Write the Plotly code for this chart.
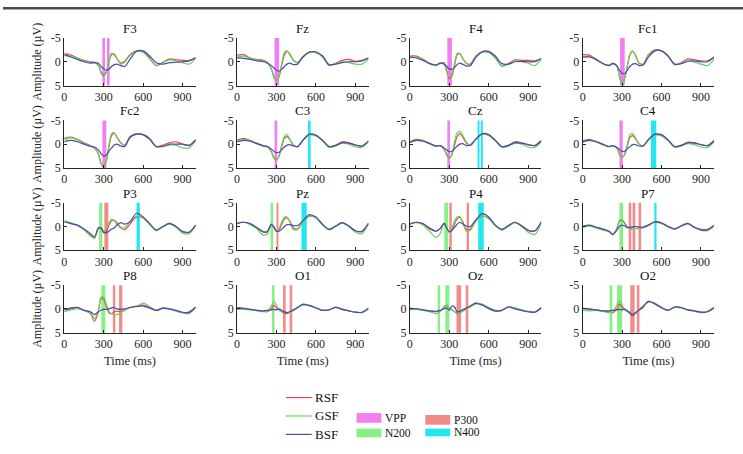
import plotly.graph_objects as go

W, H = 743, 454

# time grid (ms)
T = [0, 50, 100, 150, 200, 230, 260, 280, 300, 320, 340, 360, 380, 400, 430, 460,
     500, 550, 600, 650, 700, 750, 800, 850, 900, 950, 1000]

ELECTRODES = ["F3", "Fz", "F4", "Fc1", "Fc2", "C3", "Cz", "C4",
              "P3", "Pz", "P4", "P7", "P8", "O1", "Oz", "O2"]
SERIES = ["RSF", "GSF", "BSF"]

F3_RSF = [-1.7,-1.4,-0.8,-0.3,0.0,0.1,0.7,2.1,2.9,2.1,-0.1,-1.5,-1.5,-0.7,0.3,-0.1,-1.5,-2.3,-2.1,-0.7,0.8,0.1,-0.6,-0.4,-0.3,-0.3,-0.9]
F3_GSF = [-1.3,-1.2,-0.7,-0.2,0.1,0.2,0.8,2.4,3.1,2.2,-0.2,-1.8,-1.7,-0.8,0.5,0.1,-1.3,-2.1,-2.0,-0.6,0.8,0.2,-0.4,-0.2,0.2,0.5,-0.7]
F3_BSF = [-1.5,-1.0,-0.5,0.0,0.3,0.2,0.3,1.0,1.5,1.8,1.6,1.0,0.6,0.5,0.8,1.0,-0.5,-2.2,-2.3,-1.2,0.2,0.5,0.2,0.1,0.0,-0.2,-0.8]

Fz_RSF = [-1.4,-1.5,-0.8,-0.5,-0.3,0.1,1.4,3.1,4.0,3.1,0.7,-1.4,-2.2,-1.7,-0.3,0.1,-1.0,-2.1,-1.9,-1.2,0.8,0.3,-0.3,-0.5,-0.1,-0.3,-0.8]
Fz_GSF = [-1.0,-1.2,-0.7,-0.4,-0.2,0.2,1.5,3.3,4.1,3.0,0.3,-2.0,-2.3,-1.5,-0.2,0.2,-0.9,-2.0,-1.9,-1.0,0.8,0.4,0.0,0.2,0.5,0.5,-0.6]
Fz_BSF = [-0.8,-0.7,-0.5,-0.2,0.0,0.3,0.8,1.3,1.8,2.0,1.6,1.0,0.5,0.3,0.6,0.5,-1.0,-2.0,-2.1,-1.2,0.6,0.5,0.2,0.0,0.0,-0.2,-0.8]

F4_RSF = [-1.2,-1.2,-0.5,0.3,0.7,0.3,0.2,2.0,3.5,3.0,0.8,-1.5,-1.7,-0.8,0.3,0.5,-1.2,-2.1,-2.0,-0.9,0.9,0.4,-0.4,-0.3,-0.3,-0.2,-0.7]
F4_GSF = [-0.8,-1.0,-0.4,0.4,0.8,0.4,0.3,2.0,3.3,2.6,0.3,-1.8,-1.7,-0.7,0.4,0.6,-1.1,-2.0,-1.9,-0.8,0.9,0.5,-0.2,0.0,0.3,0.8,-0.5]
F4_BSF = [-1.0,-0.8,-0.3,0.4,0.7,0.3,0.5,1.0,1.5,1.6,1.2,0.6,0.3,0.5,0.9,0.8,-0.8,-2.1,-2.2,-1.2,0.4,0.5,0.0,-0.1,0.0,0.0,-0.7]

Fc1_RSF = [-1.5,-1.4,-0.6,0.3,0.7,0.3,0.8,3.0,4.8,3.5,1.0,-1.5,-2.2,-1.5,0.3,0.5,-1.5,-2.5,-2.3,-1.3,0.6,0.2,-0.6,-0.4,-0.2,-0.2,-1.0]
Fc1_GSF = [-1.0,-1.1,-0.5,0.4,0.8,0.4,0.9,3.2,4.8,3.4,0.8,-1.6,-2.3,-1.4,0.4,0.6,-1.4,-2.4,-2.2,-1.1,0.6,0.4,-0.2,0.1,0.5,0.8,-0.5]
Fc1_BSF = [-1.0,-1.0,-0.5,0.3,0.8,0.4,0.9,1.8,2.4,2.5,1.8,1.0,0.5,0.4,0.8,0.7,-1.0,-2.3,-2.3,-1.2,0.5,0.4,-0.1,-0.2,0.0,0.0,-1.0]

Fc2_RSF = [-1.2,-1.5,-1.0,-0.3,0.3,0.8,2.0,4.0,4.8,3.5,0.5,-1.8,-2.3,-1.5,-0.3,0.2,-1.6,-2.2,-2.0,-1.2,0.5,0.2,-0.3,-0.5,0.0,0.3,-1.0]
Fc2_GSF = [-0.9,-1.3,-0.9,-0.2,0.4,0.9,2.2,4.2,5.0,3.5,0.2,-2.2,-2.4,-1.4,-0.2,0.3,-1.5,-2.1,-1.9,-1.0,0.6,0.5,0.2,0.2,0.8,0.8,-0.8]
Fc2_BSF = [-0.5,-0.8,-0.5,0.0,0.5,0.6,1.2,2.0,2.5,2.3,1.5,0.8,0.2,0.0,0.4,0.5,-1.4,-2.1,-2.0,-1.0,0.5,0.5,0.0,0.0,0.0,0.2,-0.8]

C3_RSF = [-0.8,-1.2,-0.8,-0.2,0.3,0.5,1.5,2.8,3.3,2.5,0.5,-1.2,-1.6,-1.0,0.2,0.6,-0.8,-2.0,-1.8,-0.8,0.6,0.2,-0.5,-0.3,0.2,0.4,-0.7]
C3_GSF = [-0.6,-1.0,-0.7,-0.1,0.4,0.6,1.6,3.0,3.4,2.4,0.2,-1.6,-2.0,-1.1,0.2,0.6,-0.7,-1.9,-1.7,-0.7,0.7,0.4,-0.2,0.0,0.6,0.7,-0.5]
C3_BSF = [-0.5,-0.8,-0.6,-0.1,0.4,0.5,1.0,1.5,1.8,1.7,1.2,0.6,0.2,0.1,0.4,0.5,-0.8,-2.1,-1.9,-0.8,0.5,0.3,-0.3,-0.2,0.2,0.4,-0.7]

Cz_RSF = [-0.5,-1.0,-0.8,-0.2,0.4,0.3,1.0,2.2,3.0,2.2,0.2,-1.6,-2.2,-1.6,-0.2,0.3,-1.0,-2.1,-1.9,-0.8,0.6,0.2,-0.5,-0.3,0.1,0.3,-0.7]
Cz_GSF = [-0.3,-0.8,-0.7,-0.1,0.5,0.4,1.1,2.4,3.1,2.0,-0.5,-2.4,-2.7,-2.0,-0.4,0.3,-0.9,-2.0,-1.8,-0.7,0.7,0.4,-0.2,0.0,0.6,0.7,-0.5]
Cz_BSF = [-0.4,-0.8,-0.6,-0.1,0.4,0.3,0.8,1.2,1.6,1.5,1.0,0.4,0.0,-0.1,0.3,0.2,-1.0,-2.2,-2.0,-0.8,0.5,0.3,-0.3,-0.2,0.1,0.3,-0.7]

C4_RSF = [-0.6,-1.0,-0.6,0.0,0.5,0.3,0.8,2.0,2.8,2.2,0.4,-1.4,-1.8,-1.2,0.0,0.4,-1.0,-2.0,-1.8,-0.8,0.6,0.2,-0.4,-0.3,0.1,0.3,-0.7]
C4_GSF = [-0.4,-0.8,-0.5,0.1,0.6,0.4,0.9,2.2,2.9,2.0,0.0,-2.0,-2.2,-1.4,0.0,0.4,-0.9,-1.9,-1.7,-0.7,0.7,0.4,-0.1,0.1,0.6,0.7,-0.5]
C4_BSF = [-0.5,-0.8,-0.5,0.0,0.5,0.3,0.7,1.1,1.5,1.5,1.0,0.5,0.1,0.1,0.4,0.4,-0.9,-2.1,-2.0,-0.9,0.5,0.3,-0.3,-0.2,0.1,0.3,-0.7]

P3_RSF = [-1.0,-0.7,-0.2,0.6,1.8,2.3,0.5,0.3,1.2,1.0,-0.3,-1.2,-1.3,-0.8,0.2,0.7,-0.5,-2.0,-1.8,-0.5,0.8,0.0,-0.7,0.0,1.2,1.2,-0.3]
P3_GSF = [-1.2,-0.8,-0.2,0.7,2.0,2.5,0.4,0.2,1.0,0.5,-0.8,-1.5,-1.2,-0.5,0.3,0.2,-1.0,-2.2,-1.8,-0.4,0.9,0.1,-0.6,0.2,1.4,1.5,-0.2]
P3_BSF = [-1.0,-0.6,-0.3,0.5,1.5,2.2,0.2,0.3,1.3,1.3,1.0,0.6,0.3,-0.3,-0.8,-0.5,-1.0,-2.8,-2.0,-0.6,0.7,0.0,-0.6,0.0,1.0,1.2,-0.3]

Pz_RSF = [-0.6,-0.9,-0.5,0.3,1.2,1.2,-0.3,0.0,1.0,0.8,-0.5,-1.6,-1.8,-1.2,0.3,0.5,-1.0,-2.2,-1.9,-0.4,0.6,-0.1,-0.8,-0.1,0.9,1.1,-0.6]
Pz_GSF = [-0.7,-0.9,-0.4,0.5,1.8,1.6,-0.4,0.1,1.1,0.4,-1.0,-2.0,-2.0,-1.0,0.7,0.6,-0.9,-2.2,-1.8,-0.3,0.7,0.0,-0.7,0.0,1.2,1.5,-0.5]
Pz_BSF = [-0.6,-0.9,-0.6,0.2,1.1,1.0,-0.5,0.2,1.0,1.0,0.6,0.0,-0.4,-0.4,-0.2,-0.2,-1.2,-2.5,-2.0,-0.5,0.6,-0.1,-0.8,-0.1,0.9,1.0,-0.7]

P4_RSF = [-0.5,-0.9,-0.5,0.5,1.0,0.5,-0.5,0.3,1.2,0.8,-0.5,-1.6,-1.9,-1.2,0.6,0.5,-1.3,-2.2,-1.8,-0.2,0.6,-0.2,-0.9,-0.2,0.8,1.0,-0.9]
P4_GSF = [-0.6,-0.8,-0.3,1.0,2.3,1.5,-0.6,0.5,1.3,0.3,-1.2,-2.0,-2.1,-1.0,1.0,0.8,-1.0,-2.3,-1.6,-0.2,0.8,0.0,-0.8,0.0,1.2,1.7,-0.8]
P4_BSF = [-0.5,-0.9,-0.6,0.3,1.0,0.4,-0.7,0.3,1.1,0.8,0.2,-0.5,-0.9,-0.6,-0.1,0.0,-1.3,-2.7,-2.0,-0.3,0.6,-0.2,-0.9,-0.1,0.8,0.9,-1.0]

P7_RSF = [0.0,-0.2,0.2,0.6,1.0,1.7,0.5,-1.2,-1.3,-0.6,0.2,0.4,0.2,0.0,0.2,0.3,-0.2,-0.9,-0.6,0.0,0.5,-0.2,-0.7,0.1,0.6,0.6,-0.2]
P7_GSF = [0.2,-0.1,0.3,0.7,1.1,1.8,0.3,-1.3,-1.4,-0.8,0.0,0.5,0.6,0.5,0.4,0.2,-0.3,-1.1,-0.7,0.1,0.6,-0.1,-0.6,0.2,0.8,0.9,-0.1]
P7_BSF = [0.0,-0.3,0.1,0.5,1.0,1.6,0.8,0.0,-0.3,-0.1,0.2,0.2,0.1,0.0,0.1,0.1,-0.3,-1.0,-0.8,0.0,0.5,-0.1,-0.6,0.2,0.7,0.7,-0.3]

P8_RSF = [0.2,0.0,-0.3,0.3,1.0,2.6,0.5,-2.2,-2.0,-0.5,0.8,1.0,0.6,0.5,0.6,0.2,-0.3,-0.6,-0.8,-0.2,0.3,-0.2,0.0,0.4,0.8,0.6,-0.4]
P8_GSF = [0.6,0.2,0.0,0.3,0.8,2.0,0.3,-2.5,-2.5,-1.0,0.5,1.0,1.2,1.2,0.8,0.3,-0.3,-0.5,-1.2,-0.5,0.3,-0.2,0.0,0.5,0.8,1.0,-0.3]
P8_BSF = [0.2,-0.2,-0.3,0.3,0.6,1.2,0.6,0.3,0.1,0.1,0.0,-0.2,-0.3,0.0,0.1,0.0,-0.3,-0.5,-0.6,-0.2,0.3,-0.1,0.0,0.3,0.7,0.8,-0.4]

O1_RSF = [-0.2,-0.1,0.1,0.3,0.5,0.6,0.0,-0.8,-0.2,0.3,0.6,0.9,1.0,0.7,0.2,-0.3,-0.9,-0.7,-0.2,0.3,0.2,-0.3,0.1,0.4,0.7,0.7,-0.1]
O1_GSF = [0.1,0.1,0.2,0.4,0.6,0.5,-0.6,-1.6,-0.8,0.2,0.5,0.6,0.8,0.8,0.4,-0.2,-0.8,-0.8,-0.3,0.3,0.2,-0.3,0.0,0.4,0.7,0.8,0.0]
O1_BSF = [-0.2,-0.1,0.1,0.3,0.4,0.3,0.2,0.1,0.2,0.0,0.3,0.6,0.8,0.6,0.2,-0.3,-1.0,-0.7,-0.2,0.3,0.2,-0.3,0.1,0.4,0.7,0.7,-0.2]

Oz_RSF = [-0.1,0.0,0.2,0.5,0.6,0.5,-0.3,-0.8,-0.2,0.2,0.6,1.0,0.7,0.3,-0.1,-0.5,-1.2,-0.9,-0.1,0.5,0.3,-0.4,-0.1,0.3,0.6,0.7,-0.2]
Oz_GSF = [0.2,0.1,0.3,0.6,1.0,0.6,-0.5,-0.7,-0.2,0.2,0.6,0.8,0.8,0.6,0.1,-0.4,-1.0,-1.0,-0.3,0.3,0.3,-0.5,-0.2,0.2,0.5,0.6,-0.2]
Oz_BSF = [-0.1,0.0,0.2,0.4,0.5,0.3,0.0,-0.2,0.3,-0.6,-0.4,0.6,0.5,0.2,-0.2,-0.6,-1.2,-0.8,-0.1,0.4,0.3,-0.4,0.0,0.3,0.6,0.7,-0.3]

O2_RSF = [-0.1,0.1,0.2,0.4,0.6,0.8,0.0,-1.0,-0.3,0.2,0.5,1.0,1.5,1.0,0.3,-0.3,-1.6,-1.0,-0.2,0.3,-0.4,-0.3,0.2,0.4,0.7,0.5,-0.3]
O2_GSF = [0.3,0.4,0.3,0.5,0.8,0.6,-0.8,-1.8,-0.9,0.2,0.6,0.6,0.9,1.0,0.2,-0.6,-1.4,-1.2,-0.3,0.3,-0.3,-0.2,0.3,0.5,0.8,0.6,-0.2]
O2_BSF = [-0.1,0.0,0.2,0.4,0.4,0.3,0.2,0.1,0.2,0.0,0.4,0.9,1.2,0.8,0.2,-0.5,-1.6,-1.1,-0.3,0.3,-0.4,-0.3,0.2,0.4,0.7,0.6,-0.3]

# component windows (ms) per electrode
F3_BANDS = [("VPP", 290, 310), ("VPP", 325, 345)]
Fz_BANDS = [("VPP", 285, 320)]
F4_BANDS = [("VPP", 285, 320)]
Fc1_BANDS = [("VPP", 285, 320)]
Fc2_BANDS = [("VPP", 290, 320)]
C3_BANDS = [("VPP", 285, 305), ("N400", 540, 560)]
Cz_BANDS = [("VPP", 285, 305), ("N400", 515, 530), ("N400", 540, 555)]
C4_BANDS = [("VPP", 280, 305), ("N400", 520, 560)]
P3_BANDS = [("N200", 265, 290), ("P300", 305, 335), ("N400", 550, 575)]
Pz_BANDS = [("N200", 255, 275), ("P300", 300, 315), ("N400", 490, 530)]
P4_BANDS = [("N200", 262, 292), ("P300", 300, 319), ("P300", 432, 450), ("N400", 520, 562)]
P7_BANDS = [("N200", 280, 307), ("P300", 350, 370), ("P300", 380, 400), ("P300", 425, 445), ("N400", 545, 562)]
P8_BANDS = [("N200", 282, 312), ("P300", 370, 388), ("P300", 417, 442)]
O1_BANDS = [("N200", 265, 285), ("P300", 350, 370), ("P300", 400, 420)]
Oz_BANDS = [("N200", 212, 230), ("N200", 270, 300), ("P300", 355, 390), ("P300", 425, 445)]
O2_BANDS = [("N200", 205, 225), ("N200", 262, 300), ("P300", 362, 395), ("P300", 412, 432)]

X_TICKS = [0, 300, 600, 900]
Y_TICKS = [-5, 0, 5]
Y_TICKTEXT = ["-5", "0", "5"]

LINE_COLORS = {"RSF": "#ea4646", "GSF": "#5cd85c", "BSF": "#4a4ab2"}
BAND_COLORS = {"VPP": "#f27ff2", "N200": "#86f086", "P300": "#f28a8a", "N400": "#22e6f0"}

g = globals()
DATA = {e: {s: g[f"{e}_{s}"] for s in SERIES} for e in ELECTRODES}
BANDS = {e: g[f"{e}_BANDS"] for e in ELECTRODES}

# geometry (pixels)
COL_LEFT = [61.5, 235, 408.5, 582]
AX_W = 132
ROW_TOP = [32, 117, 202, 287]
AX_H = 49
FONT = "Liberation Serif, Times New Roman, serif"
AXC = "#262626"

fig = go.Figure()
shapes = []
annotations = []
layout = {}

for i, e in enumerate(ELECTRODES):
    r, c = divmod(i, 4)
    n = i + 1
    xa = "x" if n == 1 else f"x{n}"
    ya = "y" if n == 1 else f"y{n}"
    l = COL_LEFT[c]
    t = ROW_TOP[r]
    layout[f"xaxis{n}"] = dict(
        domain=[l / W, (l + AX_W) / W], anchor=ya, range=[0, 1000],
        tickvals=X_TICKS, ticks="inside", ticklen=3, tickcolor=AXC,
        showline=True, linecolor=AXC, linewidth=1, showgrid=False, zeroline=False,
        tickfont=dict(family=FONT, size=12, color=AXC),
        title=dict(text="Time (ms)" if r == 3 else "", font=dict(family=FONT, size=12.5, color=AXC), standoff=6),
    )
    layout[f"yaxis{n}"] = dict(
        domain=[1 - (t + AX_H) / H, 1 - t / H], anchor=xa, range=[5, -5],
        tickvals=Y_TICKS, ticktext=Y_TICKTEXT, ticks="inside", ticklen=3, tickcolor=AXC,
        showline=True, linecolor=AXC, linewidth=1, showgrid=False, zeroline=False,
        tickfont=dict(family=FONT, size=12, color=AXC),
        title=dict(text="Amplitude (\u00b5V)" if c == 0 else "", font=dict(family=FONT, size=12, color=AXC), standoff=6),
    )
    for comp, a, b in BANDS[e]:
        shapes.append(dict(type="rect", xref=xa, yref=f"{ya} domain", x0=a, x1=b, y0=0, y1=1,
                           fillcolor=BAND_COLORS[comp], line=dict(width=0), layer="below"))
    for s in SERIES:
        fig.add_trace(go.Scatter(x=T, y=DATA[e][s], mode="lines", xaxis=xa, yaxis=ya,
                                 line=dict(color=LINE_COLORS[s], width=1.2, shape="spline", smoothing=0.8),
                                 showlegend=False, hoverinfo="skip"))
    annotations.append(dict(text=e, xref="paper", yref="paper", x=(l + AX_W / 2) / W, y=1 - (t - 10) / H,
                            showarrow=False, xanchor="center", yanchor="middle",
                            font=dict(family=FONT, size=13, color="#111")))

# top rule
shapes.append(dict(type="rect", xref="paper", yref="paper", x0=0, x1=1, y0=1 - 2.5 / H, y1=1,
                   fillcolor="#4d4d4d", line=dict(width=0)))

# legend: lines
LEG_Y = [403, 422, 441]
for s, yy in zip(SERIES, LEG_Y):
    shapes.append(dict(type="line", xref="paper", yref="paper", x0=284 / W, x1=310 / W,
                       y0=1 - yy / H, y1=1 - yy / H, line=dict(color=LINE_COLORS[s], width=1.2)))
    annotations.append(dict(text=s, xref="paper", yref="paper", x=311 / W, y=1 - yy / H,
                            showarrow=False, xanchor="left", yanchor="middle",
                            font=dict(family=FONT, size=13, color="#111")))
# legend: patches
PATCHES = [("VPP", 355, 419, 429), ("N200", 355, 435, 444), ("P300", 424, 421, 431), ("N400", 424, 435, 443)]
for comp, x0, y0, y1 in PATCHES:
    shapes.append(dict(type="rect", xref="paper", yref="paper", x0=x0 / W, x1=(x0 + 25) / W,
                       y0=1 - y1 / H, y1=1 - y0 / H, fillcolor=BAND_COLORS[comp], line=dict(width=0)))
    annotations.append(dict(text=comp, xref="paper", yref="paper", x=(x0 + 27) / W, y=1 - (y0 + y1) / 2 / H,
                            showarrow=False, xanchor="left", yanchor="middle",
                            font=dict(family=FONT, size=11.5, color="#111")))

fig.update_layout(width=W, height=H, margin=dict(l=0, r=0, t=0, b=0),
                  paper_bgcolor="white", plot_bgcolor="white",
                  shapes=shapes, annotations=annotations, showlegend=False, **layout)
fig.write_html("out.html")
